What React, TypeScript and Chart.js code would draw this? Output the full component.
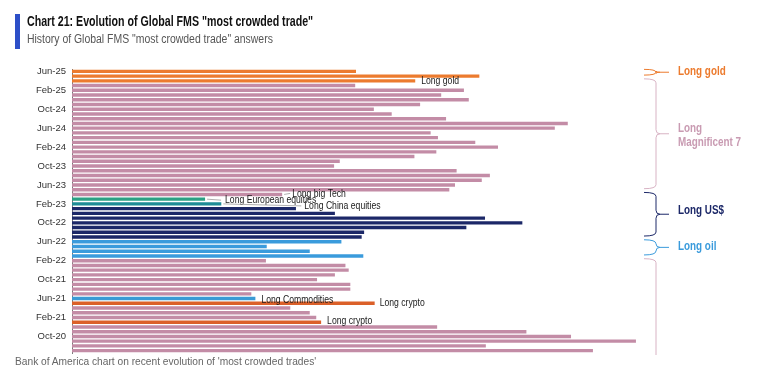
import React, { useEffect, useRef } from "react";
import { Chart, registerables } from "chart.js";

Chart.register(...registerables);

// ---------- data ----------
const months = [
  "Jun-25", "May-25", "Apr-25", "Mar-25", "Feb-25", "Jan-25",
  "Dec-24", "Nov-24", "Oct-24", "Sep-24", "Aug-24", "Jul-24",
  "Jun-24", "May-24", "Apr-24", "Mar-24", "Feb-24", "Jan-24",
  "Dec-23", "Nov-23", "Oct-23", "Sep-23", "Aug-23", "Jul-23",
  "Jun-23", "May-23", "Apr-23", "Mar-23", "Feb-23", "Jan-23",
  "Dec-22", "Nov-22", "Oct-22", "Sep-22", "Aug-22", "Jul-22",
  "Jun-22", "May-22", "Apr-22", "Mar-22", "Feb-22", "Jan-22",
  "Dec-21", "Nov-21", "Oct-21", "Sep-21", "Aug-21", "Jul-21",
  "Jun-21", "May-21", "Apr-21", "Mar-21", "Feb-21", "Jan-21",
  "Dec-20", "Nov-20", "Oct-20", "Sep-20", "Aug-20", "Jul-20",
];

// share of respondents naming the trade as most crowded (estimated)
const crowdedShare = [
  35.0, 50.2, 42.3, 34.9, 48.3, 45.5,
  48.9, 42.9, 37.2, 39.4, 46.1, 61.1,
  59.5, 44.2, 45.1, 49.7, 52.5, 44.9,
  42.2, 33.0, 32.3, 47.4, 51.5, 50.5,
  47.2, 46.5, 25.9, 16.4, 18.4, 27.6,
  32.4, 50.9, 55.5, 48.6, 36.0, 35.7,
  33.2, 24.0, 29.3, 35.9, 23.9, 33.7,
  34.1, 32.4, 30.2, 34.3, 34.3, 22.1,
  22.6, 37.3, 26.9, 29.3, 30.1, 30.7,
  45.0, 56.0, 61.5, 69.5, 51.0, 64.2,
];

const tradeTheme = [
  "gold", "gold", "gold", "mag7", "mag7", "mag7",
  "mag7", "mag7", "mag7", "mag7", "mag7", "mag7",
  "mag7", "mag7", "mag7", "mag7", "mag7", "mag7",
  "mag7", "mag7", "mag7", "mag7", "mag7", "mag7",
  "mag7", "mag7", "bigtech", "euro", "china", "usd",
  "usd", "usd", "usd", "usd", "usd", "usd",
  "oil", "oil", "oil", "oil", "tech", "tech",
  "tech", "tech", "tech", "tech", "tech", "tech",
  "commod", "crypto", "tech", "tech", "tech", "crypto",
  "tech", "tech", "tech", "tech", "tech", "tech",
];

const tickMonths = [
  "Jun-25", "Feb-25", "Oct-24", "Jun-24", "Feb-24", "Oct-23", "Jun-23",
  "Feb-23", "Oct-22", "Jun-22", "Feb-22", "Oct-21", "Jun-21", "Feb-21", "Oct-20",
];

const noteMonths = ["Apr-25", "Apr-23", "Mar-23", "Feb-23", "Jun-21", "May-21", "Jan-21"];
const noteTexts = [
  "Long gold", "Long big Tech", "Long European equities", "Long China equities",
  "Long Commodities", "Long crypto", "Long crypto",
];

const braceFrom = ["Jun-25", "Apr-25", "Apr-23", "Jun-22", "Feb-22"];
const braceTo = ["May-25", "May-23", "Jul-22", "Mar-22", "Jul-20"];
const braceLabels = [["Long gold"], ["Long", "Magnificent 7"], ["Long US$"], ["Long oil"], []];

// ---------- styles ----------
const SANS = '"Liberation Sans", Arial, sans-serif';

const themeColors: Record<string, string> = {
  gold: "#EC7B2E",
  mag7: "#C38CA6",
  bigtech: "#C38CA6",
  tech: "#C38CA6",
  euro: "#2BA084",
  china: "#1F8C96",
  usd: "#1C2868",
  oil: "#3A9BDC",
  commod: "#3B9BD5",
  crypto: "#DB6029",
};

const braceStyle = [
  { stroke: "#EC7B2E", text: "#EC7B2E", textDy: -1, noTip: false },
  { stroke: "#D8B3C4", text: "#C99BB2", textDy: 1.5, noTip: false },
  { stroke: "#1C2868", text: "#1C2868", textDy: -4, noTip: false },
  { stroke: "#3A9BDC", text: "#3A9BDC", textDy: -1, noTip: false },
  { stroke: "#D8B3C4", text: "#C99BB2", textDy: 0, noTip: true },
];

// per-note placement tweaks (dx from bar end, dy from bar centre, leader line)
const noteStyle = [
  { dx: 6, dy: 0, leader: false, lx: 0 },
  { dx: 10, dy: -1, leader: true, lx: 8 },
  { dx: 20, dy: 1, leader: true, lx: 16 },
  { dx: 83, dy: 2, leader: true, lx: 80 },
  { dx: 6, dy: 1, leader: false, lx: 0 },
  { dx: 5, dy: 0, leader: false, lx: 0 },
  { dx: 6, dy: -1, leader: false, lx: 0 },
];

function condensedText(ctx: any, text: string, x: number, y: number, sx: number) {
  ctx.save();
  ctx.translate(x, y);
  ctx.scale(sx, 1);
  ctx.fillText(text, 0, 0);
  ctx.restore();
}

const annotationPlugin = {
  id: "fmsAnnotations",
  afterDatasetsDraw(chart: any) {
    const { ctx, chartArea } = chart;
    const meta = chart.getDatasetMeta(0);
    const yScale = chart.scales.y;
    ctx.save();
    // bar notes
    ctx.font = `11.5px ${SANS}`;
    ctx.textBaseline = "middle";
    ctx.textAlign = "left";
    noteMonths.forEach((m, k) => {
      const idx = months.indexOf(m);
      const bar = meta.data[idx];
      if (!bar) return;
      const st = noteStyle[k];
      const tx = bar.x + st.dx;
      const ty = bar.y + st.dy;
      if (st.leader) {
        ctx.strokeStyle = "#9a9a9a";
        ctx.lineWidth = 0.8;
        ctx.beginPath();
        ctx.moveTo(bar.x + 2, bar.y);
        ctx.lineTo(bar.x + st.lx, ty);
        ctx.stroke();
      }
      ctx.fillStyle = "#1a1a1a";
      condensedText(ctx, noteTexts[k], tx, ty, 0.75);
    });

    // braces on the right
    const x0 = chartArea.right + 4;
    const xv = chartArea.right + 16;
    const xt = chartArea.right + 29;
    const r = 4;
    braceFrom.forEach((from, k) => {
      const st = braceStyle[k];
      const yTop = yScale.getPixelForValue(months.indexOf(from)) - 2;
      let yBot = yScale.getPixelForValue(months.indexOf(braceTo[k])) - 1;
      if (st.noTip) yBot = chartArea.bottom + 2;
      const yMid = (yTop + yBot) / 2;
      ctx.strokeStyle = st.stroke;
      ctx.lineWidth = 1;
      ctx.beginPath();
      ctx.moveTo(x0, yTop);
      ctx.quadraticCurveTo(xv, yTop, xv, Math.min(yTop + r, yMid));
      if (st.noTip) {
        ctx.lineTo(xv, yBot);
      } else {
        ctx.lineTo(xv, Math.max(yMid - r, yTop + r));
        ctx.quadraticCurveTo(xv, yMid, xv + r, yMid);
        ctx.lineTo(xt, yMid);
        ctx.moveTo(xv + r, yMid);
        ctx.quadraticCurveTo(xv, yMid, xv, Math.min(yMid + r, yBot - r));
        ctx.lineTo(xv, Math.max(yBot - r, yMid));
        ctx.quadraticCurveTo(xv, yBot, x0, yBot);
      }
      ctx.stroke();

      const lines = braceLabels[k];
      ctx.font = `bold 12.5px ${SANS}`;
      ctx.fillStyle = st.text;
      ctx.textBaseline = "middle";
      const lh = 14;
      lines.forEach((ln: string, j: number) => {
        const y = yMid + st.textDy + (j - (lines.length - 1) / 2) * lh;
        condensedText(ctx, ln, xt + 9, y, 0.79);
      });
    });
    ctx.restore();
  },
};

export default function App() {
  const canvasRef = useRef<HTMLCanvasElement | null>(null);

  useEffect(() => {
    if (!canvasRef.current) return;
    const chart = new Chart(canvasRef.current, {
      type: "bar",
      data: {
        labels: months,
        datasets: [
          {
            data: crowdedShare,
            backgroundColor: tradeTheme.map((t) => themeColors[t]),
            borderWidth: 0,
            barPercentage: 0.72,
            categoryPercentage: 1,
          },
        ],
      },
      options: {
        indexAxis: "y",
        animation: false,
        responsive: false,
        maintainAspectRatio: false,
        layout: { padding: { left: 0, top: 69, right: 122, bottom: 26 } },
        plugins: {
          legend: { display: false },
          tooltip: { enabled: false },
          title: { display: false },
        },
        scales: {
          x: { display: false, min: 0, max: 70 },
          y: {
            grid: { display: false, drawTicks: false },
            border: { display: true, color: "#7a7a7a", width: 1 },
            afterFit: (scale: any) => {
              scale.width = 72;
            },
            ticks: {
              autoSkip: false,
              padding: 6,
              color: "#333333",
              font: { family: SANS, size: 9.5 },
              callback: (_v: any, i: number) =>
                tickMonths.includes(months[i]) ? months[i] : "",
            },
          },
        },
      },
      plugins: [annotationPlugin],
    });
    return () => chart.destroy();
  }, []);

  return (
    <div
      style={{
        position: "fixed",
        left: 0,
        top: 0,
        width: 762,
        height: 379,
        background: "#ffffff",
        overflow: "hidden",
      }}
    >
      <canvas
        ref={canvasRef}
        width={762}
        height={379}
        style={{ position: "absolute", left: 0, top: 0, width: 762, height: 379 }}
      />
      <div
        style={{
          position: "absolute",
          left: 15,
          top: 14,
          width: 5,
          height: 35,
          background: "#2D4FC8",
        }}
      />
      <div
        style={{
          position: "absolute",
          left: 27,
          top: 13,
          fontFamily: SANS,
          fontWeight: "bold",
          fontSize: 14,
          lineHeight: "16px",
          color: "#111111",
          whiteSpace: "nowrap",
          transform: "scaleX(0.76)",
          transformOrigin: "0 0",
        }}
      >
        Chart 21: Evolution of Global FMS "most crowded trade"
      </div>
      <div
        style={{
          position: "absolute",
          left: 27,
          top: 32,
          fontFamily: SANS,
          fontSize: 12,
          lineHeight: "14px",
          color: "#555555",
          whiteSpace: "nowrap",
          transform: "scaleX(0.87)",
          transformOrigin: "0 0",
        }}
      >
        History of Global FMS "most crowded trade" answers
      </div>
      <div
        style={{
          position: "absolute",
          left: 15,
          top: 356,
          fontFamily: SANS,
          fontSize: 10.2,
          lineHeight: "12px",
          color: "#666666",
          whiteSpace: "nowrap",
        }}
      >
        Bank of America chart on recent evolution of 'most crowded trades'
      </div>
    </div>
  );
}
